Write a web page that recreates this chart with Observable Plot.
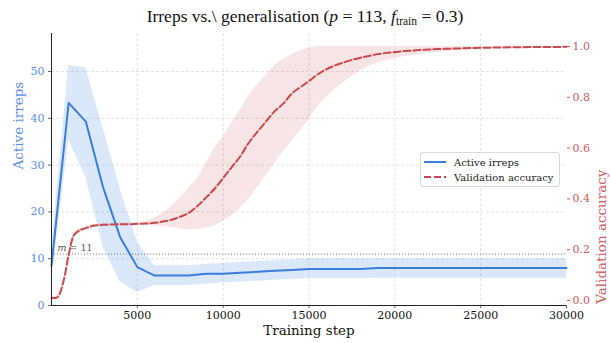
<!DOCTYPE html>
<html>
<head>
<meta charset="utf-8">
<script src="https://cdn.jsdelivr.net/npm/d3@7"></script>
<script src="https://cdn.jsdelivr.net/npm/@observablehq/plot@0.6"></script>
<style>
  body { margin: 0; background: #fff; }
  #wrap { position: relative; width: 610px; height: 343px; }
  #title { position: absolute; top: 6px; left: 0; width: 610px; text-align: center;
           font-family: "Liberation Serif", serif; font-size: 17.5px; color: #111; }
  #title sub { font-size: 11.5px; vertical-align: -3px; line-height: 0; }
  #legend { position: absolute; left: 420px; top: 152px; width: 138px; height: 33px;
            border: 1px solid #d8d8d8; border-radius: 3px; background: rgba(255,255,255,0.85);
            font-family: "DejaVu Serif", serif; font-size: 10px; color: #222; }
  #legend .row { position: absolute; left: 3px; height: 14px; display: flex; align-items: center; }
  #legend svg { margin-right: 8px; }
  #chart svg text { font-family: "DejaVu Serif", serif; }
</style>
</head>
<body>
<div id="wrap">
  <div id="chart"></div>
  <div id="title">Irreps vs.\ generalisation (<i>p</i> = 113, <i>f</i><sub>train</sub> = 0.3)</div>
  <div id="legend">
    <div class="row" style="top:2px"><svg width="22" height="6"><line x1="0" y1="3" x2="22" y2="3" stroke="#3a7ddb" stroke-width="2"/></svg>Active irreps</div>
    <div class="row" style="top:17px"><svg width="22" height="6"><line x1="0" y1="3" x2="22" y2="3" stroke="#c9474e" stroke-width="2" stroke-dasharray="7,3"/></svg>Validation accuracy</div>
  </div>
</div>
<script>
// Active irreps (mean, band)
const irrSteps = [0,1000,2000,3000,4000,5000,6000,7000,8000,9000,10000,11000,12000,13000,14000,15000,16000,17000,18000,19000,20000,21000,22000,23000,24000,25000,26000,27000,28000,29000,30000];
const irrMean  = [8.5,43.3,39.3,25.3,14.6,8.2,6.4,6.4,6.4,6.8,6.8,7.0,7.2,7.4,7.6,7.8,7.8,7.8,7.8,8.0,8.0,8.0,8.0,8.0,8.0,8.0,8.0,8.0,8.0,8.0,8.0];
const irrHigh  = [12,51.3,50.8,38,25,13.5,8.5,8.5,8.5,8.8,9.0,9.2,9.4,9.6,9.8,10,10,10,10,10,10,10,10,10,10,10,10,10,10,10,10];
const irrLow   = [5,35.3,27.4,12.5,5.0,2.8,4.3,4.3,4.3,4.6,4.8,5.0,5.2,5.4,5.6,5.7,5.7,5.7,5.7,5.8,5.8,5.8,5.8,5.8,5.8,5.8,5.8,5.8,5.8,5.8,5.8];

// Validation accuracy (mean, band)
const accSteps = [0,250,500,750,1000,1250,1500,2000,2500,3000,3500,4000,4500,5000,5500,6000,6500,7000,7500,8000,8500,9000,9500,10000,10500,11000,11500,12000,12500,13000,13500,14000,14500,15000,15500,16000,16500,17000,17500,18000,18500,19000,19500,20000,20500,21000,21500,22000,22500,23000,23500,24000,24500,25000,26000,27000,28000,29000,30000];
const accMean  = [0.01,0.01,0.03,0.09,0.18,0.25,0.27,0.285,0.295,0.298,0.299,0.300,0.300,0.302,0.303,0.306,0.311,0.318,0.33,0.345,0.372,0.405,0.44,0.482,0.525,0.568,0.622,0.665,0.705,0.745,0.775,0.815,0.84,0.864,0.89,0.91,0.925,0.937,0.947,0.956,0.963,0.97,0.975,0.978,0.982,0.984,0.987,0.988,0.99,0.991,0.992,0.993,0.994,0.995,0.996,0.997,0.998,0.998,0.999];
const accHigh  = [0.015,0.015,0.035,0.095,0.19,0.26,0.28,0.292,0.3,0.303,0.304,0.305,0.306,0.307,0.31,0.325,0.345,0.37,0.405,0.44,0.48,0.54,0.60,0.645,0.70,0.75,0.805,0.85,0.885,0.925,0.95,0.968,0.983,0.995,1.0,1.0,1.0,1.0,1.0,1.0,1.0,1.0,1.0,1.0,1.0,1.0,1.0,1.0,1.0,1.0,1.0,1.0,1.0,1.0,1.0,1.0,1.0,1.0,1.0];
const accLow   = [0.005,0.005,0.025,0.085,0.17,0.24,0.26,0.278,0.29,0.293,0.294,0.295,0.295,0.297,0.296,0.293,0.29,0.288,0.283,0.278,0.28,0.285,0.292,0.312,0.335,0.362,0.40,0.445,0.492,0.54,0.587,0.628,0.667,0.715,0.762,0.80,0.83,0.857,0.882,0.905,0.922,0.935,0.945,0.953,0.96,0.965,0.97,0.973,0.977,0.98,0.983,0.986,0.988,0.99,0.992,0.994,0.995,0.996,0.997];

const xTicks = [5000,10000,15000,20000,25000,30000];
const leftTicks = [0,10,20,30,40,50];
const rightTicks = [0,0.2,0.4,0.6,0.8,1.0];
const mThreshold = 11;

const BLUE = "#3a7ddb", RED = "#c9474e", BLUE_T = "#5b8ee6", RED_T = "#d0575c";
// map accuracy onto the left (irreps) scale: twin axis
const toLeft = a => 1.068 + 54.27 * a;

const irr = irrSteps.map((s, i) => ({step: s, mean: irrMean[i], lo: irrLow[i], hi: irrHigh[i]}));
const acc = accSteps.map((s, i) => ({step: s, mean: toLeft(accMean[i]), lo: toLeft(accLow[i]), hi: toLeft(accHigh[i])}));

const font = "DejaVu Serif";
const chart = Plot.plot({
  width: 610, height: 343,
  marginLeft: 51, marginRight: 44, marginTop: 33, marginBottom: 38,
  style: {fontFamily: font, fontSize: "11px", background: "white"},
  x: {domain: [0, 30000]},
  y: {domain: [0, 58.12]},
  marks: [
    Plot.gridX(xTicks.slice(0, -1), {stroke: "#d0d0d0", strokeOpacity: 1, strokeDasharray: "3,2", strokeWidth: 0.6}),
    Plot.gridY(leftTicks.slice(1), {stroke: "#d0d0d0", strokeOpacity: 1, strokeDasharray: "3,2", strokeWidth: 0.6}),
    Plot.areaY(acc, {x: "step", y1: "lo", y2: "hi", fill: RED, fillOpacity: 0.15}),
    Plot.areaY(irr, {x: "step", y1: "lo", y2: "hi", fill: BLUE, fillOpacity: 0.18}),
    Plot.ruleY([mThreshold], {stroke: "#777", strokeDasharray: "1,2", strokeWidth: 1}),
    Plot.text([mThreshold], {x: 350, y: d => d, dy: -6, text: d => "m = " + d, textAnchor: "start", fill: "#555", fontSize: 9.5, className: "mlabel"}),
    Plot.line(irr, {x: "step", y: "mean", stroke: BLUE, strokeWidth: 2}),
    Plot.line(acc, {x: "step", y: "mean", stroke: RED, strokeWidth: 2, strokeDasharray: "7,3", curve: "monotone-x"}),
    Plot.axisX(xTicks, {tickSize: 3, tickPadding: 3, stroke: "#666", fill: "#111", fontSize: 11, label: null, tickFormat: d => String(d)}),
    Plot.axisY(leftTicks, {anchor: "left", tickSize: 3, tickPadding: 4, stroke: "#666", fill: BLUE_T, fontSize: 11, label: null}),
    Plot.axisY(rightTicks.map(toLeft), {anchor: "right", tickSize: 3, tickPadding: 3, stroke: RED_T, fill: RED_T, fontSize: 11, label: null, tickFormat: v => ((v - 1.068) / 54.27).toFixed(1)}),
    Plot.ruleX([0], {stroke: "#222", strokeWidth: 1}),
    Plot.ruleY([0], {stroke: "#222", strokeWidth: 1}),
    Plot.text(["Training step"], {frameAnchor: "bottom", dy: 29, fontSize: 13.5, fill: "#111"}),
    Plot.text(["Active irreps"], {frameAnchor: "left", dx: -33, rotate: -90, fontSize: 13.5, fill: BLUE_T}),
    Plot.text(["Validation accuracy"], {frameAnchor: "right", dx: 35, rotate: -90, fontSize: 13.5, fill: RED_T})
  ]
});
document.getElementById("chart").appendChild(chart);
d3.select(chart).selectAll(".mlabel text").html('<tspan font-style="italic">m</tspan> = 11');
</script>
</body>
</html>
